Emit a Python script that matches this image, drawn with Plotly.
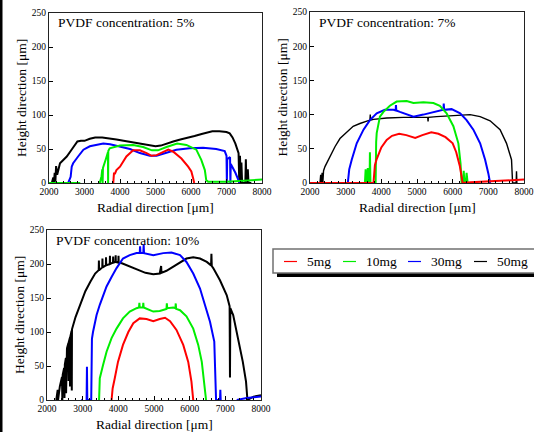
import plotly.graph_objects as go

W, H = 534, 432

# ---------------- data ----------------
series_names = ["5mg", "10mg", "30mg", "50mg"]
series_colors = ["#ff0000", "#00ee00", "#0000ff", "#000000"]
panel_titles = ["PVDF concentration: 5%", "PVDF concentration: 7%", "PVDF concentration: 10%"]
x_ticks = [2000, 3000, 4000, 5000, 6000, 7000, 8000]
y_ticks = [0, 50, 100, 150, 200, 250]
x_title = "Radial direction [μm]"
y_title = "Height direction [μm]"

# 5 %
x5_red = [3810, 3830, 3860, 3900, 4000, 4180, 4370, 4560, 4750, 4890, 5030, 5210, 5360, 5500, 5730, 5920, 6010, 6060, 6090]
y5_red = [0, 14, 14, 19, 24, 39, 48, 48, 44, 40, 41, 46, 49, 46, 36, 24, 17, 7, 0]
x5_green = [2000, 2880, 2890, 3430, 3480, 3500, 3510, 3520, 3600, 3660, 3665, 3670, 3710, 3850, 4000, 4370, 4650, 4900, 5070, 5310, 5610, 5870, 6150, 6290, 6390, 6430, 6480, 7000, 7500, 8000]
y5_green = [0, 0, None, 0, 10, 20, 0, 22, 35, 45, 0, 47, 51, 53, 55, 56, 53, 48, 48, 53, 58, 56, 49, 34, 19, 4, 2, 2, 3, 5]
x5_blue = [2540, 2610, 2640, 2680, 2820, 2970, 3150, 3340, 3530, 3720, 4000, 4280, 4560, 4840, 5030, 5310, 5590, 5960, 6340, 6710, 6950, 7000, 7010, 7020, 7100, 7110, 7120, 7250, 7370]
y5_blue = [0, 9, 24, 29, 39, 49, 54, 56, 58, 57, 54, 50, 44, 40, 40, 45, 49, 51, 52, 50, 47, 40, 0, 35, 38, 0, 28, 15, 0]
x5_black = [2000, 2080, 2120, 2140, 2160, 2180, 2200, 2230, 2310, 2500, 2650, 2800, 2900, 3000, 3150, 3300, 3500, 3700, 3900, 4100, 4300, 4500, 4700, 4900, 5000, 5150, 5300, 5500, 5700, 5900, 6100, 6300, 6450, 6600, 6800, 7000, 7090, 7170, 7250, 7340, 7360, 7380, 7400, 7420, 7440, 7530, 7545, 7560, 7600, 7620, 7700]
y5_black = [0, 0, 8, 0, 15, 2, 25, 12, 29, 39, 50, 61, 62, 62, 65, 67, 67, 66, 64, 62, 60, 58, 57, 55, 54, 55, 58, 61, 64, 66, 69, 72, 74, 76, 76, 75, 73, 67, 58, 44, 0, 40, 0, 30, 0, 0, 35, 0, 20, 0, 0]

# 7 %
x7_red = [2000, 3780, 3820, 3870, 4000, 4150, 4300, 4500, 4700, 4950, 5150, 5400, 5600, 5800, 6000, 6100, 6200, 6250, 6280, 6500, 7000, 7500, 8000]
y7_red = [0, 0, 26, 35, 52, 63, 69, 72, 70, 66, 70, 74, 72, 67, 58, 45, 25, 8, 0, 1, 2, 3, 5]
x7_green = [3540, 3560, 3575, 3610, 3620, 3635, 3670, 3680, 3695, 3840, 3855, 3870, 3960, 4060, 4240, 4430, 4710, 4900, 5180, 5460, 5640, 5830, 6020, 6160, 6220, 6250, 6290, 6310, 6330, 6370, 6390, 6420]
y7_green = [0, 20, 0, 0, 22, 0, 0, 45, 0, 0, 60, 73, 97, 104, 113, 119, 120, 117, 118, 117, 113, 102, 83, 58, 29, 0, 0, 18, 0, 0, 15, 0]
x7_blue = [3060, 3100, 3170, 3310, 3500, 3680, 3870, 4100, 4340, 4400, 4410, 4420, 4520, 4710, 4900, 5180, 5460, 5740, 5750, 5760, 5970, 6210, 6390, 6580, 6770, 6910, 7000, 7050]
y7_blue = [0, 20, 34, 58, 78, 92, 102, 107, 107, 106, 114, 106, 104, 100, 97, 100, 104, 107, 116, 107, 108, 102, 92, 78, 58, 34, 14, 0]
x7_black = [2280, 2300, 2320, 2340, 2360, 2380, 2420, 2560, 2700, 2840, 3030, 3210, 3400, 3590, 3680, 3690, 3700, 3780, 4150, 4620, 5080, 5300, 5310, 5320, 5550, 6020, 6300, 6490, 6770, 7050, 7330, 7510, 7650, 7680, 7780, 7790, 7800]
y7_black = [0, 12, 0, 15, 0, 18, 24, 39, 53, 65, 75, 83, 87, 91, 92, 100, 92, 93, 95, 96, 96, 96, 90, 96, 97, 99, 100, 100, 97, 91, 78, 58, 34, 0, 0, 17, 0]

# 10 %
x10_red = [3810, 3840, 3900, 3990, 4130, 4280, 4420, 4600, 4790, 4980, 5160, 5310, 5450, 5630, 5820, 5960, 6050, 6100]
y10_red = [0, 17, 32, 56, 81, 100, 113, 120, 119, 116, 119, 121, 116, 103, 81, 56, 27, 0]
x10_green = [3460, 3480, 3570, 3670, 3810, 3950, 4130, 4320, 4510, 4580, 4590, 4600, 4690, 4700, 4710, 4980, 5160, 5350, 5360, 5370, 5540, 5600, 5610, 5620, 5730, 5910, 6100, 6240, 6340, 6400, 6460]
y10_green = [0, 32, 51, 71, 91, 105, 120, 130, 135, 136, 143, 136, 136, 143, 136, 130, 131, 134, 142, 135, 136, 135, 142, 134, 132, 123, 105, 81, 56, 32, 0]
x10_blue = [2960, 3000, 3010, 3110, 3120, 3130, 3240, 3250, 3260, 3290, 3390, 3480, 3570, 3670, 3810, 3950, 4130, 4320, 4510, 4600, 4610, 4620, 4700, 4710, 4720, 4980, 5260, 5490, 5730, 5910, 6100, 6290, 6430, 6570, 6690, 6740, 6850, 6860, 6870, 6880, 7320, 7600, 8000]
y10_blue = [0, 0, None, 0, 49, 0, 0, 81, 90, 100, 125, 140, 154, 167, 181, 194, 208, 213, 216, 216, 226, 216, 216, 229, 216, 213, 216, 217, 213, 203, 186, 164, 140, 115, 86, 0, 0, 15, 0, None, 0, 3, 5]
x10_black = [2260, 2300, 2310, 2360, 2420, 2430, 2440, 2480, 2490, 2500, 2530, 2535, 2540, 2560, 2600, 2605, 2610, 2640, 2645, 2650, 2690, 2695, 2700, 2800, 2935, 3075, 3215, 3350, 3450, 3455, 3460, 3550, 3555, 3560, 3650, 3655, 3660, 3760, 3765, 3770, 3850, 3855, 3860, 3920, 3925, 3930, 4000, 4005, 4010, 4100, 4240, 4520, 4760, 4980, 5160, 5200, 5210, 5350, 5540, 5730, 5910, 6100, 6290, 6480, 6600, 6610, 6620, 6660, 6850, 7040, 7120, 7130, 7140, 7220, 7370, 7490, 7580, 7620, 7790, 8000]
y10_black = [0, 15, 0, 20, 34, 0, 37, 47, 3, 52, 62, 10, 64, 76, 84, 28, 85, 91, 20, 92, 102, 14, 104, 122, 142, 160, 174, 186, 191, 205, 191, 195, 208, 195, 198, 210, 198, 200, 212, 200, 202, 211, 202, 203, 213, 203, 202, 212, 202, 201, 198, 191, 187, 185, 186, 197, 187, 190, 196, 203, 208, 210, 208, 203, 198, 215, 197, 194, 176, 154, 138, 33, 135, 125, 86, 56, 27, 0, 5, 7]

panels = [
    [(x5_red, y5_red), (x5_green, y5_green), (x5_blue, y5_blue), (x5_black, y5_black)],
    [(x7_red, y7_red), (x7_green, y7_green), (x7_blue, y7_blue), (x7_black, y7_black)],
    [(x10_red, y10_red), (x10_green, y10_green), (x10_blue, y10_blue), (x10_black, y10_black)],
]

# ---------------- layout helpers ----------------
def px(x):
    return x / W

def py(y):
    return 1 - y / H

FONT = "Liberation Serif"

# plot boxes in pixels: (left, right, top, bottom)
boxes = [(49, 262, 13, 183), (310, 524, 12, 183), (47, 261, 230, 400)]

fig = go.Figure()
draw_order = [3, 2, 1, 0]  # black, blue, green, red (red on top)
for p, data in enumerate(panels):
    sfx = "" if p == 0 else str(p + 1)
    for k in draw_order:
        xs, ys = data[k]
        fig.add_trace(go.Scatter(
            x=xs, y=ys, mode="lines", name=series_names[k],
            line=dict(color=series_colors[k], width=1.4 if (p == 1 and k == 3) else 2),
            xaxis="x" + sfx, yaxis="y" + sfx, showlegend=False,
            connectgaps=False, hoverinfo="skip"))

layout = dict(
    template="none",
    width=W, height=H, autosize=False,
    margin=dict(l=0, r=0, t=0, b=0, pad=0, autoexpand=False),
    paper_bgcolor="white", plot_bgcolor="white",
    font=dict(family=FONT, color="black"),
    showlegend=False,
)
annotations = []
shapes = []
for p, (l, r, t, b) in enumerate(boxes):
    sfx = "" if p == 0 else str(p + 1)
    layout["xaxis" + sfx] = dict(
        domain=[px(l), px(r)], anchor="y" + sfx, range=[2000, 8000], automargin=False,
        tickvals=x_ticks, ticktext=[str(v) for v in x_ticks],
        ticks="inside", ticklen=4, tickcolor="black", tickwidth=1,
        minor=dict(dtick=200, tick0=2000, ticks="inside", ticklen=2, tickcolor="black"),
        showline=True, linecolor="#222", linewidth=1, mirror=True,
        showgrid=False, zeroline=False, tickfont=dict(size=9.5, family=FONT),
    )
    layout["yaxis" + sfx] = dict(
        domain=[py(b), py(t)], anchor="x" + sfx, range=[0, 250], automargin=False,
        tickvals=y_ticks, ticktext=[str(v) for v in y_ticks],
        ticks="inside", ticklen=4, tickcolor="black", tickwidth=1,
        showline=True, linecolor="#222", linewidth=1, mirror=True,
        showgrid=False, zeroline=False, tickfont=dict(size=9.5, family=FONT),
    )
    annotations.append(dict(text=panel_titles[p], xref="paper", yref="paper",
                            x=px(l + 7), y=py(t + 10), xanchor="left", yanchor="middle",
                            showarrow=False, font=dict(size=13.5, family=FONT)))
    annotations.append(dict(text=x_title, xref="paper", yref="paper",
                            x=px((l + r) / 2), y=py(b + 24), xanchor="center", yanchor="middle",
                            showarrow=False, font=dict(size=13.5, family=FONT)))
    annotations.append(dict(text=y_title, xref="paper", yref="paper", textangle=-90,
                            x=px(l - 28), y=py((t + b) / 2), xanchor="center", yanchor="middle",
                            showarrow=False, font=dict(size=13.5, family=FONT)))

# left dark strip of the page
shapes.append(dict(type="rect", xref="paper", yref="paper", x0=0, x1=px(2.5), y0=0, y1=1,
                   fillcolor="black", line=dict(width=0)))

# legend box (with drop shadow)
shapes.append(dict(type="rect", xref="paper", yref="paper", x0=px(277), x1=px(545),
                   y0=py(277), y1=py(253), fillcolor="black", line=dict(width=0)))
shapes.append(dict(type="rect", xref="paper", yref="paper", x0=px(273), x1=px(541),
                   y0=py(273), y1=py(249), fillcolor="white", line=dict(color="#707070", width=1.5)))
leg_line_x = [284, 343, 408, 474]
for k in range(4):
    x0 = leg_line_x[k]
    shapes.append(dict(type="line", xref="paper", yref="paper", x0=px(x0), x1=px(x0 + 13),
                       y0=py(261.5), y1=py(261.5), line=dict(color=series_colors[k], width=1.2)))
    annotations.append(dict(text=series_names[k], xref="paper", yref="paper",
                            x=px(x0 + 21), y=py(261.5), xanchor="left", yanchor="middle",
                            showarrow=False, font=dict(size=13.5, family=FONT)))

layout["annotations"] = annotations
layout["shapes"] = shapes
fig.update_layout(**layout)
fig.write_html(
    "out.html",
    config={"displayModeBar": False},
    post_script="document.body.style.margin='0';document.body.style.padding='0';",
)
